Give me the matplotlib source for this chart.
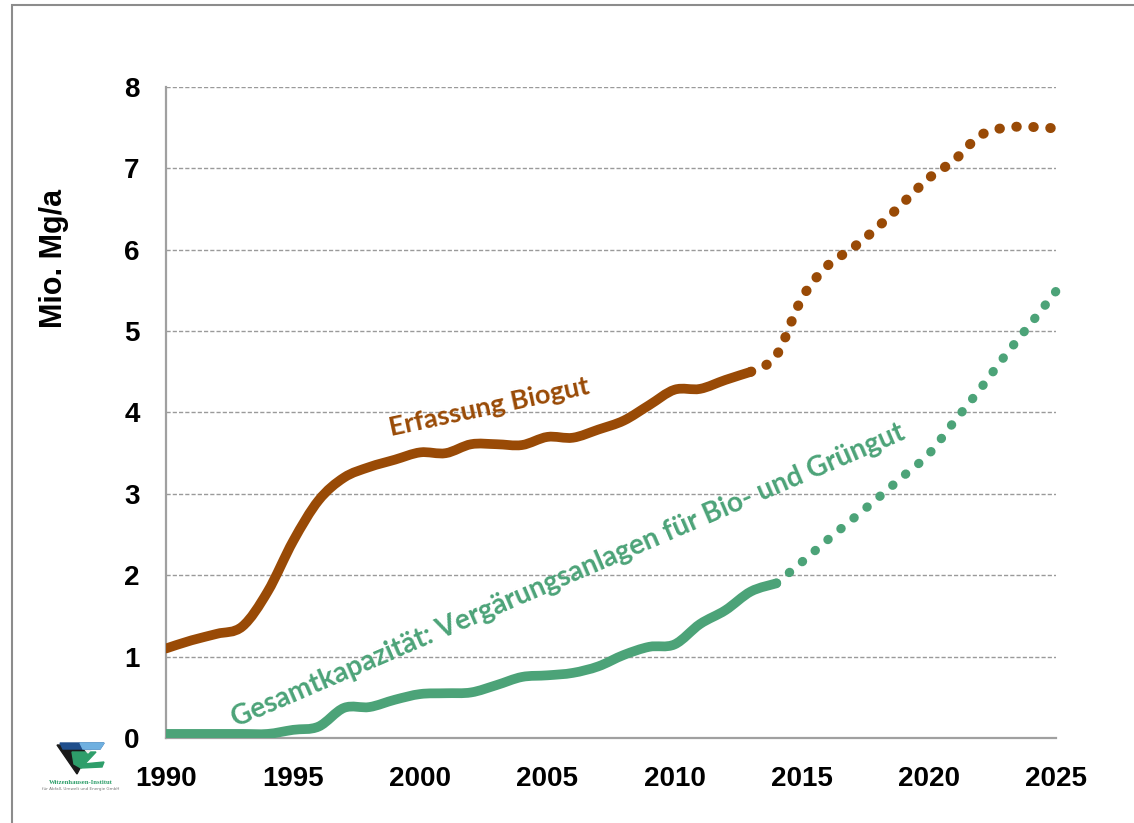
import numpy as np
import matplotlib
matplotlib.use("Agg")
import matplotlib.pyplot as plt
from matplotlib.path import Path
from matplotlib.patches import PathPatch, Polygon, Rectangle

BROWN = "#994A06"
GREEN = "#4CA378"
GRID = "#A0A0A0"

# Erfassung Biogut (Mio. Mg/a) - recorded values and forecast
years_bio = [1990, 1991, 1992, 1993, 1994, 1995, 1996, 1997, 1998, 1999, 2000, 2001,
             2002, 2003, 2004, 2005, 2006, 2007, 2008, 2009, 2010, 2011, 2012, 2013]
bio = [1.10, 1.20, 1.28, 1.37, 1.80, 2.42, 2.92, 3.20, 3.33, 3.42, 3.51, 3.50,
       3.61, 3.61, 3.60, 3.70, 3.69, 3.79, 3.90, 4.09, 4.28, 4.29, 4.40, 4.50]
years_bio_fc = [2013, 2014, 2015, 2016, 2017, 2018, 2019, 2020, 2021, 2022, 2023, 2024, 2025]
bio_fc = [4.50, 4.70, 5.40, 5.80, 6.02, 6.28, 6.58, 6.88, 7.10, 7.40, 7.50, 7.51, 7.49]

# Gesamtkapazitaet der Vergaerungsanlagen (Mio. Mg/a)
years_cap = [1990, 1991, 1992, 1993, 1994, 1995, 1996, 1997, 1998, 1999, 2000, 2001, 2002,
             2003, 2004, 2005, 2006, 2007, 2008, 2009, 2010, 2011, 2012, 2013, 2014]
cap = [0.05, 0.05, 0.05, 0.05, 0.05, 0.10, 0.14, 0.37, 0.38, 0.47, 0.54, 0.55, 0.56,
       0.65, 0.75, 0.77, 0.80, 0.88, 1.02, 1.12, 1.15, 1.40, 1.57, 1.80, 1.90]
years_cap_fc = [2014, 2015, 2016, 2017, 2018, 2019, 2020, 2021, 2022, 2023, 2024, 2025]
cap_fc = [1.90, 2.16, 2.43, 2.69, 2.95, 3.22, 3.49, 3.89, 4.28, 4.70, 5.09, 5.49]

x_ticks = [1990, 1995, 2000, 2005, 2010, 2015, 2020, 2025]
y_ticks = [0, 1, 2, 3, 4, 5, 6, 7, 8]

DPI = 100


def smooth_path(xs, ys):
    # Catmull-Rom style smoothing expressed as cubic Bezier segments
    pts = np.column_stack([xs, ys]).astype(float)
    n = len(pts)
    verts = [pts[0]]
    codes = [Path.MOVETO]
    for i in range(n - 1):
        p0 = pts[max(i - 1, 0)]
        p1 = pts[i]
        p2 = pts[i + 1]
        p3 = pts[min(i + 2, n - 1)]
        verts += [p1 + (p2 - p0) / 6.0, p2 - (p3 - p1) / 6.0, p2]
        codes += [Path.CURVE4] * 3
    return Path(verts, codes)


def curve(ax, xs, ys, color, lw, ls="-", clip=True):
    patch = PathPatch(smooth_path(xs, ys), fill=False, edgecolor=color, lw=lw,
                      linestyle=ls, capstyle="round", joinstyle="round", zorder=3,
                      clip_on=clip)
    ax.add_patch(patch)


def dotted_to_end(ax, xs, ys, color, lw, spacing_px):
    # choose the gap so that a dot lands just before the last point
    path = smooth_path(xs, ys).transformed(ax.transData)
    poly = path.to_polygons(closed_only=False)[0]
    length = np.hypot(*np.diff(poly, axis=0).T).sum()
    n = max(1, round(length / spacing_px))
    period = length / (n + 0.05) / (lw * DPI / 72.0)
    curve(ax, xs, ys, color, lw, ls=(0, (0.05, period - 0.05)), clip=False)


fig = plt.figure(figsize=(11.34, 8.23), dpi=DPI)
ax = fig.add_axes([0.1464, 0.1033, 0.7848, 0.791])

ax.set_xlim(1990, 2025)
ax.set_ylim(0, 8)
ax.set_xticks(x_ticks)
ax.set_yticks(y_ticks)
ax.tick_params(length=0, labelsize=20)
ax.tick_params(axis="y", pad=19)
ax.tick_params(axis="x", pad=20)
for lab in ax.get_xticklabels() + ax.get_yticklabels():
    lab.set_fontfamily("Liberation Sans")
    lab.set_fontweight("bold")

for s in ["top", "right"]:
    ax.spines[s].set_visible(False)
for s in ["left", "bottom"]:
    ax.spines[s].set_color(GRID)
    ax.spines[s].set_linewidth(1.6)
ax.spines["bottom"].set_zorder(1)

ax.yaxis.grid(True, color="#9A9A9A", lw=1.0, ls=(0, (3, 1.5)))
ax.set_axisbelow(True)

curve(ax, years_bio, bio, BROWN, 7)
curve(ax, years_bio_fc, bio_fc, BROWN, 7.2, ls=(0, (0.05, 1.65)), clip=False)
curve(ax, years_cap, cap, GREEN, 7)
dotted_to_end(ax, years_cap_fc, cap_fc, GREEN, 6.6, 17)

ax.text(491, 823 - 415, "Erfassung Biogut", transform=None, color=BROWN,
        fontsize=19.5, fontfamily="Lato", fontweight="bold", rotation=12,
        rotation_mode="anchor", ha="center", va="baseline")
ax.text(571, 823 - 583, "Gesamtkapazität: Vergärungsanlagen für Bio- und Grüngut",
        transform=None, color=GREEN, fontsize=20.2, fontfamily="Lato",
        fontweight="bold", rotation=23.3, rotation_mode="anchor",
        ha="center", va="baseline")

fig.text(54 / 1134, 1 - 258 / 823, "Mio. Mg/a", rotation=90, ha="center", va="center",
         fontsize=22, fontfamily="Liberation Sans", fontweight="bold")

# slide frame, top and left edges
fig.patches.append(Rectangle((12 / 1134, -0.05), 1.1, 1 - 5 / 823 + 0.05,
                             transform=fig.transFigure, fill=False,
                             edgecolor="#8C8C8C", lw=1.5))

# institute logo
logo = fig.add_axes([48 / 1134, 1 - 800 / 823, 66 / 1134, 60 / 823])
logo.set_xlim(0, 66)
logo.set_ylim(60, 0)
logo.axis("off")
logo.add_patch(Polygon([[9, 5], [44, 5], [29, 34]], color="#1A1A1A"))
logo.add_patch(Polygon([[24, 12], [48, 12], [33, 28], [26, 24]], color="#2E9E6A"))
logo.add_patch(Polygon([[35, 24], [56, 22], [54, 27], [33, 28]], color="#2E9E6A"))
logo.add_patch(Polygon([[34, 6], [46, 6], [40, 13]], color="#EDEDED"))
logo.add_patch(Polygon([[12, 3], [56, 3], [52, 9], [15, 9]], color="#1F4E8C"))
logo.add_patch(Polygon([[32, 3], [56, 3], [52, 9], [35, 9]], color="#6FB0E0"))
logo.text(33, 42, "Witzenhausen-Institut", ha="center", va="center", fontsize=4.8,
          fontfamily="Liberation Serif", fontweight="bold", color="#2E9E6A")
logo.text(33, 49, "für Abfall, Umwelt und Energie GmbH", ha="center", va="center",
          fontsize=3.0, color="#777777")

fig.savefig("out.png", dpi=DPI, facecolor="white")
